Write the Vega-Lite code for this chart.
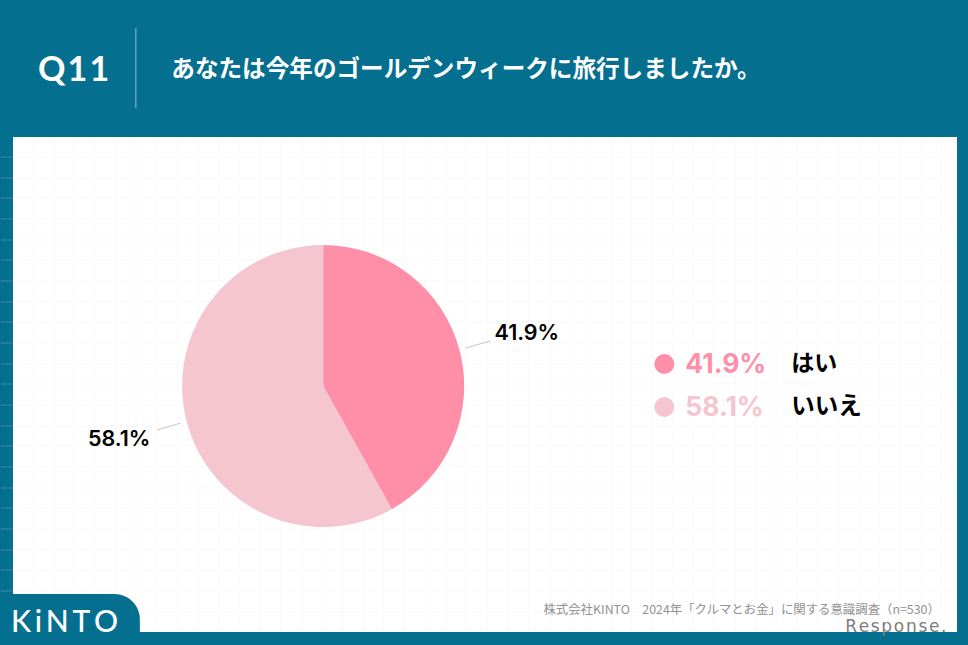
{
  "$schema": "https://vega.github.io/schema/vega-lite/v6.json",
  "width": 968,
  "height": 645,
  "autosize": {"type": "fit", "contains": "padding"},
  "padding": 0,
  "background": "#056f8f",
  "config": {
    "view": {"stroke": null},
    "axis": {"disable": true},
    "text": {"font": "Noto Sans CJK JP"}
  },
  "datasets": {
    "answers": [
      {"answer": "はい", "share": 41.9, "label": "41.9%"},
      {"answer": "いいえ", "share": 58.1, "label": "58.1%"}
    ],
    "gridY": [
      {"at": 157}, {"at": 178}, {"at": 198}, {"at": 219}, {"at": 240}, {"at": 260}, {"at": 281}, {"at": 302},
      {"at": 322}, {"at": 343}, {"at": 364}, {"at": 384}, {"at": 405}, {"at": 426}, {"at": 446}, {"at": 467},
      {"at": 488}, {"at": 508}, {"at": 529}, {"at": 550}, {"at": 570}, {"at": 591}, {"at": 612}
    ],
    "gridX": [
      {"at": 32}, {"at": 53}, {"at": 73}, {"at": 94}, {"at": 115}, {"at": 135}, {"at": 156}, {"at": 177}, {"at": 197},
      {"at": 218}, {"at": 239}, {"at": 259}, {"at": 280}, {"at": 301}, {"at": 321}, {"at": 342}, {"at": 363}, {"at": 383},
      {"at": 404}, {"at": 425}, {"at": 445}, {"at": 466}, {"at": 487}, {"at": 507}, {"at": 528}, {"at": 549}, {"at": 569},
      {"at": 590}, {"at": 611}, {"at": 631}, {"at": 652}, {"at": 673}, {"at": 693}, {"at": 714}, {"at": 735}, {"at": 755},
      {"at": 776}, {"at": 797}, {"at": 817}, {"at": 838}, {"at": 859}, {"at": 879}, {"at": 900}, {"at": 921}, {"at": 941}
    ]
  },
  "layer": [
    {
      "data": {"values": [{"part": "panel"}]},
      "mark": {"type": "rect", "color": "#ffffff"},
      "encoding": {
        "x": {"datum": 12, "scale": {"domain": [0, 968], "nice": false}},
        "x2": {"datum": 957},
        "y": {"datum": 137, "scale": {"domain": [645, 0], "nice": false}},
        "y2": {"datum": 632}
      }
    },
    {
      "data": {"name": "gridX"},
      "mark": {"type": "rule", "color": "#f9f9f9", "strokeWidth": 1},
      "encoding": {
        "x": {"field": "at", "type": "quantitative"},
        "y": {"datum": 138},
        "y2": {"datum": 631}
      }
    },
    {
      "data": {"name": "gridY"},
      "mark": {"type": "rule", "color": "#f9f9f9", "strokeWidth": 1},
      "encoding": {
        "y": {"field": "at", "type": "quantitative"},
        "x": {"datum": 13},
        "x2": {"datum": 956}
      }
    },
    {
      "data": {"name": "gridY"},
      "transform": [{"filter": "datum.at < 600"}],
      "mark": {"type": "rule", "color": "#3a8ba6", "strokeWidth": 1},
      "encoding": {
        "y": {"field": "at", "type": "quantitative"},
        "x": {"datum": 0},
        "x2": {"datum": 12}
      }
    },
    {
      "data": {"values": [{"part": "tab"}]},
      "mark": {"type": "rect", "color": "#056f8f", "cornerRadiusTopRight": 36},
      "encoding": {
        "x": {"datum": 0},
        "x2": {"datum": 139},
        "y": {"datum": 594},
        "y2": {"datum": 645}
      }
    },
    {
      "data": {"values": [{"text": "K\u2009i\u2009N\u2009T\u2009O"}]},
      "mark": {"type": "text", "font": "Lato", "fontWeight": 500, "fontSize": 30, "align": "left", "baseline": "alphabetic", "color": "#ffffff"},
      "encoding": {
        "x": {"datum": 10},
        "y": {"datum": 632},
        "text": {"field": "text"}
      }
    },
    {
      "data": {"values": [{"text": "Q\u200a1\u200a1"}]},
      "mark": {"type": "text", "font": "Lato", "fontWeight": 700, "fontSize": 34, "align": "left", "baseline": "alphabetic", "color": "#ffffff"},
      "encoding": {
        "x": {"datum": 37},
        "y": {"datum": 81},
        "text": {"field": "text"}
      }
    },
    {
      "data": {"values": [{"part": "divider"}]},
      "mark": {"type": "rule", "color": "#8fc0cf", "strokeWidth": 1},
      "encoding": {
        "x": {"datum": 135},
        "y": {"datum": 28},
        "y2": {"datum": 108}
      }
    },
    {
      "data": {"values": [{"text": "あなたは今年のゴールデンウィークに旅行しましたか。"}]},
      "mark": {"type": "text", "fontWeight": 700, "fontSize": 23.6, "align": "left", "baseline": "alphabetic", "color": "#ffffff"},
      "encoding": {
        "x": {"datum": 170.5},
        "y": {"datum": 77},
        "text": {"field": "text"}
      }
    },
    {
      "data": {"name": "answers"},
      "mark": {"type": "arc", "outerRadius": 141},
      "encoding": {
        "x": {"datum": 322.5},
        "y": {"datum": 386},
        "theta": {"field": "share", "type": "quantitative"},
        "order": {"field": "share", "type": "quantitative"},
        "color": {
          "field": "answer",
          "type": "nominal",
          "scale": {"domain": ["はい", "いいえ"], "range": ["#ff8fa9", "#f5c5d0"]},
          "legend": null
        }
      }
    },
    {
      "data": {"name": "answers"},
      "transform": [{"filter": "datum.answer === 'はい'"}],
      "layer": [
        {
          "mark": {"type": "rule", "color": "#c8c8c8", "strokeWidth": 1},
          "encoding": {"x": {"datum": 465}, "x2": {"datum": 490}, "y": {"datum": 348}, "y2": {"datum": 341}}
        },
        {
          "mark": {"type": "text", "font": "Inter", "fontWeight": 600, "fontSize": 21.5, "align": "left", "color": "#000000"},
          "encoding": {"x": {"datum": 494}, "y": {"datum": 334}, "text": {"field": "label"}}
        },
        {
          "mark": {"type": "point", "filled": true, "opacity": 1, "shape": "circle", "size": 400},
          "encoding": {
            "x": {"datum": 664},
            "y": {"datum": 364},
            "color": {"field": "answer", "type": "nominal", "legend": null}
          }
        },
        {
          "mark": {"type": "text", "font": "Inter", "fontWeight": 700, "fontSize": 26.5, "align": "left"},
          "encoding": {
            "x": {"datum": 685},
            "y": {"datum": 365},
            "text": {"field": "label"},
            "color": {"field": "answer", "type": "nominal", "legend": null}
          }
        },
        {
          "mark": {"type": "text", "fontWeight": 700, "fontSize": 23, "align": "left", "color": "#000000"},
          "encoding": {"x": {"datum": 791}, "y": {"datum": 364}, "text": {"field": "answer"}}
        }
      ]
    },
    {
      "data": {"name": "answers"},
      "transform": [{"filter": "datum.answer === 'いいえ'"}],
      "layer": [
        {
          "mark": {"type": "rule", "color": "#c8c8c8", "strokeWidth": 1},
          "encoding": {"x": {"datum": 156}, "x2": {"datum": 180}, "y": {"datum": 430}, "y2": {"datum": 423}}
        },
        {
          "mark": {"type": "text", "font": "Inter", "fontWeight": 600, "fontSize": 21.5, "align": "left", "color": "#000000"},
          "encoding": {"x": {"datum": 87}, "y": {"datum": 440}, "text": {"field": "label"}}
        },
        {
          "mark": {"type": "point", "filled": true, "opacity": 1, "shape": "circle", "size": 400},
          "encoding": {
            "x": {"datum": 664},
            "y": {"datum": 407},
            "color": {"field": "answer", "type": "nominal", "legend": null}
          }
        },
        {
          "mark": {"type": "text", "font": "Inter", "fontWeight": 700, "fontSize": 26.5, "align": "left"},
          "encoding": {
            "x": {"datum": 685},
            "y": {"datum": 408},
            "text": {"field": "label"},
            "color": {"field": "answer", "type": "nominal", "legend": null}
          }
        },
        {
          "mark": {"type": "text", "fontWeight": 700, "fontSize": 23.5, "align": "left", "color": "#000000"},
          "encoding": {"x": {"datum": 791}, "y": {"datum": 407}, "text": {"field": "answer"}}
        }
      ]
    },
    {
      "data": {"values": [{"text": "株式会社KINTO　2024年「クルマとお金」に関する意識調査（n=530）"}]},
      "mark": {"type": "text", "fontSize": 12.4, "align": "left", "color": "#929292"},
      "encoding": {
        "x": {"datum": 543},
        "y": {"datum": 610},
        "text": {"field": "text"}
      }
    },
    {
      "data": {"values": [{"text": "R\u200ae\u200as\u200ap\u200ao\u200an\u200as\u200ae\u200a."}]},
      "mark": {"type": "text", "font": "DejaVu Sans", "fontSize": 17, "align": "left", "baseline": "alphabetic", "color": "#7d7d7d"},
      "encoding": {
        "x": {"datum": 845},
        "y": {"datum": 632},
        "text": {"field": "text"}
      }
    }
  ]
}
